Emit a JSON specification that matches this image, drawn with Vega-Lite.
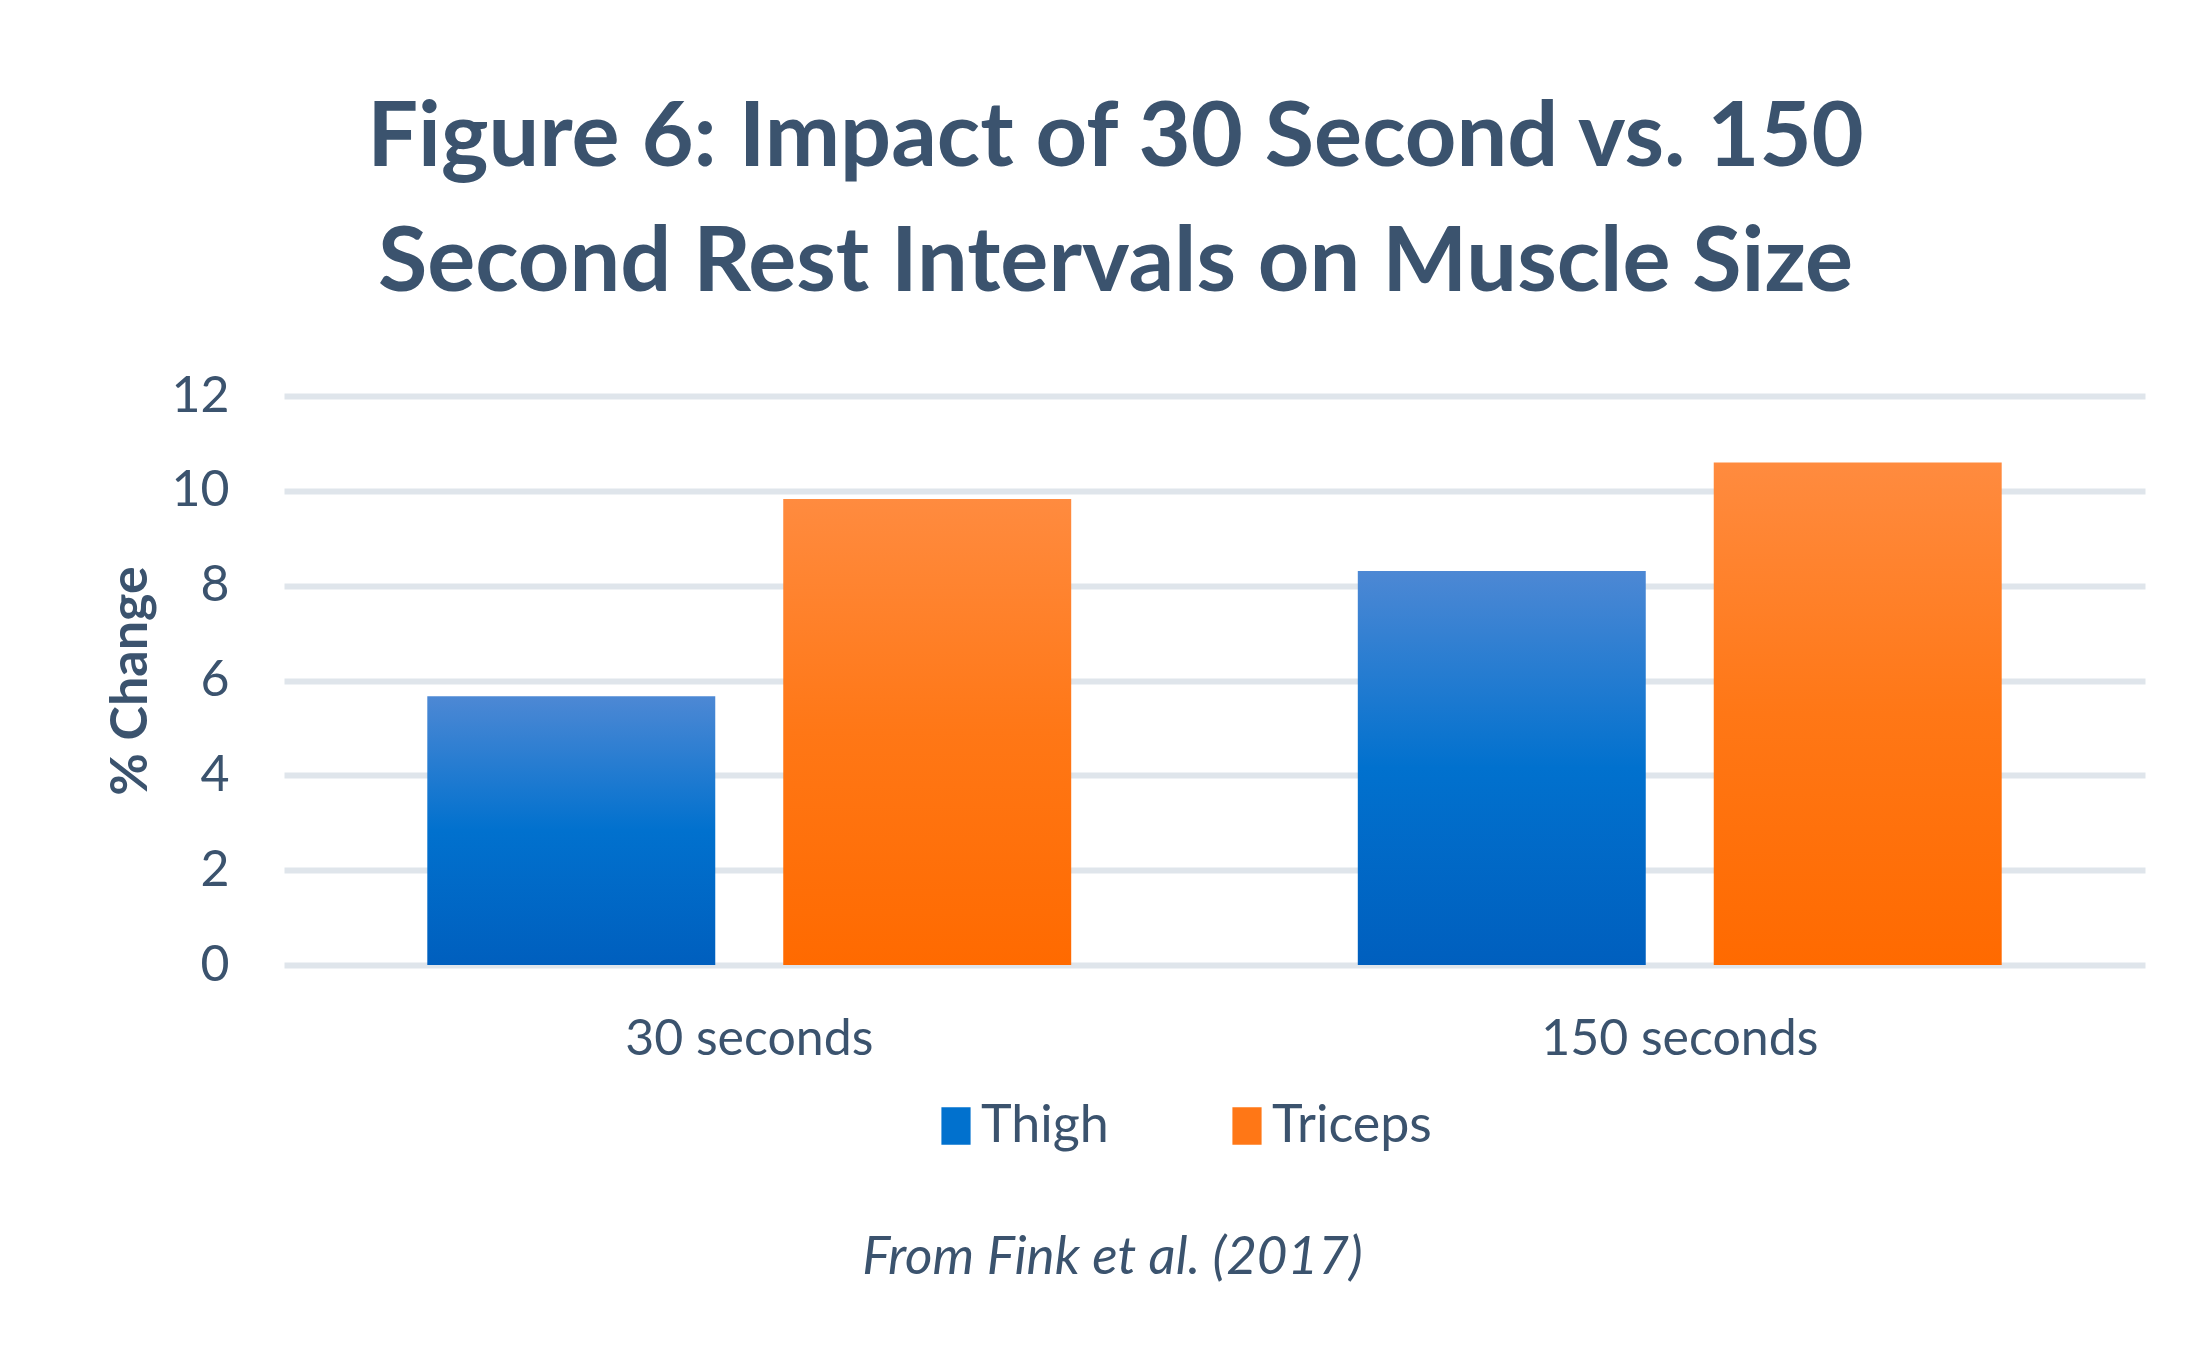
{
  "$schema": "https://vega.github.io/schema/vega-lite/v6.json",
  "width": 1861,
  "height": 569,
  "autosize": "none",
  "padding": {"left": 284, "top": 396, "right": 65, "bottom": 393},
  "background": "white",
  "title": {
    "text": ["Figure 6: Impact of 30 Second vs. 150", "Second Rest Intervals on Muscle Size"],
    "font": "Lato",
    "fontSize": 90,
    "fontWeight": "bold",
    "color": "#3b536e",
    "lineHeight": 125,
    "anchor": "middle",
    "baseline": "alphabetic",
    "dx": -99,
    "dy": 88,
    "offset": 78
  },
  "data": {
    "values": [
      {"rest": "30 seconds", "muscle": "Thigh", "change": 5.67},
      {"rest": "30 seconds", "muscle": "Triceps", "change": 9.83},
      {"rest": "150 seconds", "muscle": "Thigh", "change": 8.31},
      {"rest": "150 seconds", "muscle": "Triceps", "change": 10.6}
    ]
  },
  "encoding": {
    "x": {
      "field": "rest",
      "type": "nominal",
      "sort": ["30 seconds", "150 seconds"],
      "scale": {"paddingInner": 0.308, "paddingOuter": 0.154},
      "axis": {
        "title": "From Fink et al. (2017)",
        "titleFont": "Lato",
        "titleFontSize": 53,
        "titleFontStyle": "italic",
        "titleFontWeight": "normal",
        "titleColor": "#3b536e",
        "titlePadding": 167,
        "titleX": 828,
        "titleAlign": "center",
        "labelAngle": 0,
        "labelFont": "Lato",
        "labelFontSize": 50,
        "labelColor": "#3b536e",
        "labelPadding": 49,
        "labelLimit": 0,
        "ticks": false,
        "tickSize": 0,
        "domain": false,
        "grid": false
      }
    },
    "xOffset": {
      "field": "muscle",
      "type": "nominal",
      "sort": ["Thigh", "Triceps"],
      "scale": {"paddingInner": 0.191, "paddingOuter": 0}
    },
    "y": {
      "field": "change",
      "type": "quantitative",
      "scale": {"domain": [0, 12], "nice": false},
      "axis": {
        "title": "% Change",
        "titleFont": "Lato",
        "titleFontSize": 52,
        "titleFontWeight": "bold",
        "titleColor": "#3b536e",
        "titlePadding": 13,
        "values": [0, 2, 4, 6, 8, 10, 12],
        "labelFont": "Lato",
        "labelFontSize": 50,
        "labelColor": "#3b536e",
        "labelPadding": 55,
        "ticks": false,
        "tickSize": 0,
        "domain": false,
        "grid": true,
        "gridColor": "#dfe5eb",
        "gridWidth": 6
      }
    }
  },
  "layer": [
    {
      "transform": [{"filter": "datum.muscle === 'Thigh'"}],
      "mark": {
        "type": "bar",
        "color": {"gradient": "linear", "x1": 0, "y1": 0, "x2": 0, "y2": 1,
          "stops": [{"offset": 0, "color": "#4d88d4"}, {"offset": 0.5, "color": "#0171ce"}, {"offset": 1, "color": "#005fbe"}]}
      }
    },
    {
      "transform": [{"filter": "datum.muscle === 'Triceps'"}],
      "mark": {
        "type": "bar",
        "color": {"gradient": "linear", "x1": 0, "y1": 0, "x2": 0, "y2": 1,
          "stops": [{"offset": 0, "color": "#ff8b3f"}, {"offset": 0.5, "color": "#ff7716"}, {"offset": 1, "color": "#ff6a00"}]}
      }
    },
    {
      "mark": {"type": "bar", "opacity": 0},
      "encoding": {
        "color": {
          "field": "muscle",
          "type": "nominal",
          "scale": {"domain": ["Thigh", "Triceps"], "range": ["#0171ce", "#ff7716"]},
          "legend": {
            "title": null,
            "orient": "none",
            "legendX": 646,
            "legendY": 704,
            "direction": "horizontal",
            "padding": 0,
            "symbolType": "M-0.78,-1H0.78V1H-0.78Z",
            "symbolSize": 1400,
            "symbolStrokeWidth": 0,
            "symbolOpacity": 1,
            "labelFont": "Lato",
            "labelFontSize": 52,
            "labelColor": "#3b536e",
            "labelOffset": -1,
            "columnPadding": 112,
            "labelLimit": 0,
            "encode": {
              "symbols": {
                "update": {
                  "opacity": {"value": 1},
                  "fill": {"signal": "datum.value === 'Thigh' ? {gradient: 'linear', x1: 0, y1: 0, x2: 0, y2: 1, stops: [{offset: 0, color: '#4d88d4'}, {offset: 0.5, color: '#0171ce'}, {offset: 1, color: '#005fbe'}]} : {gradient: 'linear', x1: 0, y1: 0, x2: 0, y2: 1, stops: [{offset: 0, color: '#ff8b3f'}, {offset: 0.5, color: '#ff7716'}, {offset: 1, color: '#ff6a00'}]}"}
                }
              }
            }
          }
        }
      }
    }
  ],
  "config": {
    "view": {"stroke": null}
  }
}
